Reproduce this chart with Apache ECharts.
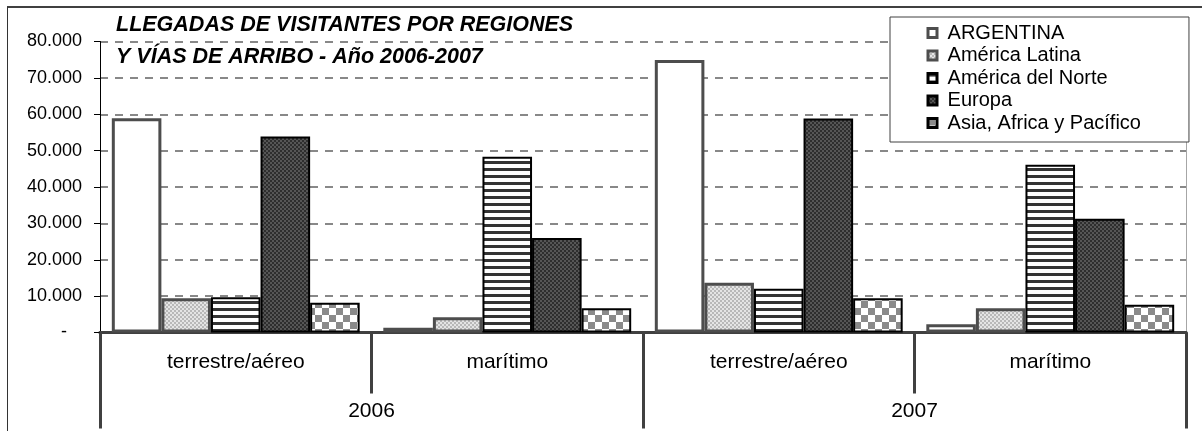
<!DOCTYPE html>
<html>
<head>
<meta charset="utf-8">
<title>Llegadas de visitantes</title>
<script src="https://cdn.jsdelivr.net/npm/echarts@6/dist/echarts.min.js"></script>
<style>
  html, body { margin: 0; padding: 0; background: #fff; }
  #chart { width: 1202px; height: 431px; }
</style>
</head>
<body>
<div id="chart"></div>
<script>
// datos (orden: 2006 terrestre/aéreo, 2006 marítimo, 2007 terrestre/aéreo, 2007 marítimo)
var vias = ['terrestre/aéreo', 'marítimo', 'terrestre/aéreo', 'marítimo'];
var anios = ['2006', '2007'];
var regiones = ['ARGENTINA', 'América Latina', 'América del Norte', 'Europa', 'Asia, Africa y Pacífico'];

var argentina = [58900, 1300, 74900, 2300];
var americaLatina = [9400, 4200, 13700, 6700];
var americaNorte = [9700, 48300, 12000, 46100];
var europa = [53900, 26000, 58800, 31300];
var asiaAfrica = [8200, 6700, 9400, 7600];

var yTicks = [0, 80000, 10000]; // min, max, intervalo

var FONT = 'Liberation Sans, Arial, sans-serif';

// tramas tipo excel
function trama(w, h, draw) {
    var c = document.createElement('canvas');
    c.width = w;
    c.height = h;
    draw(c.getContext('2d'));
    return { image: c, repeat: 'repeat' };
}

var tramaLatina = trama(4, 4, function(ctx) {
    ctx.fillStyle = '#e4e4e4';
    ctx.fillRect(0, 0, 4, 4);
    ctx.fillStyle = '#b8b8b8';
    ctx.fillRect(0, 0, 2, 2);
    ctx.fillRect(2, 2, 2, 2);
});

var tramaNorte = trama(4, 7, function(ctx) {
    ctx.fillStyle = '#ffffff';
    ctx.fillRect(0, 0, 4, 7);
    ctx.fillStyle = '#333333';
    ctx.fillRect(0, 0, 4, 3);
});

var tramaEuropa = trama(4, 4, function(ctx) {
    ctx.fillStyle = '#2e2e2e';
    ctx.fillRect(0, 0, 4, 4);
    ctx.fillStyle = '#565656';
    ctx.fillRect(0, 0, 2, 2);
    ctx.fillRect(2, 2, 2, 2);
});

var tramaAsia = trama(14, 14, function(ctx) {
    ctx.fillStyle = '#ffffff';
    ctx.fillRect(0, 0, 14, 14);
    ctx.fillStyle = '#8a8a8a';
    ctx.fillRect(0, 0, 7, 7);
    ctx.fillRect(7, 7, 7, 7);
});

var estilos = [
    { color: '#ffffff', borderColor: '#4d4d4d', borderWidth: 3 },
    { color: tramaLatina, borderColor: '#4d4d4d', borderWidth: 3 },
    { color: tramaNorte, borderColor: '#000000', borderWidth: 2 },
    { color: tramaEuropa, borderColor: '#000000', borderWidth: 2 },
    { color: tramaAsia, borderColor: '#000000', borderWidth: 2 }
];
var valores = [argentina, americaLatina, americaNorte, europa, asiaAfrica];

var series = regiones.map(function(nombre, i) {
    return {
        name: nombre,
        type: 'bar',
        xAxisIndex: 0,
        yAxisIndex: 0,
        barGap: '0%',
        barCategoryGap: '8.7%',
        itemStyle: estilos[i],
        emphasis: { disabled: true },
        data: valores[i]
    };
});

function miles(v) {
    if (v === 0) return '-   ';
    return String(v).replace(/\B(?=(\d{3})+(?!\d))/g, '.');
}

var chart = echarts.init(document.getElementById('chart'), null, { renderer: 'canvas' });

chart.setOption({
    animation: false,
    backgroundColor: '#ffffff',
    title: {
        text: 'LLEGADAS DE VISITANTES POR REGIONES\nY VÍAS DE ARRIBO - Año 2006-2007',
        left: 116,
        top: 9,
        padding: 0,
        textStyle: {
            fontFamily: FONT,
            fontSize: 21.5,
            fontWeight: 'bold',
            fontStyle: 'italic',
            color: '#000',
            lineHeight: 32
        }
    },
    legend: {
        orient: 'vertical',
        left: 890,
        top: 17,
        padding: [6, 48, 9, 36.5],
        itemGap: 2.5,
        itemWidth: 9,
        itemHeight: 9,
        icon: 'rect',
        backgroundColor: '#ffffff',
        borderColor: '#404040',
        borderWidth: 1,
        borderRadius: 0,
        selectedMode: false,
        itemStyle: { borderWidth: 3 },
        formatter: ' {name}',
        textStyle: { fontFamily: FONT, fontSize: 20, color: '#000' },
        data: regiones
    },
    grid: { left: 100, right: 16, top: 41.5, bottom: 98.5, containLabel: false },
    xAxis: [
        {
            type: 'category',
            position: 'bottom',
            data: vias,
            axisLine: { show: true, lineStyle: { color: '#404040', width: 3 } },
            axisTick: { show: true, length: 61, lineStyle: { color: '#404040', width: 3 } },
            axisLabel: { interval: 0, margin: 19, fontFamily: FONT, fontSize: 21, color: '#000' },
            splitLine: { show: false }
        },
        {
            type: 'category',
            position: 'bottom',
            offset: 0,
            data: anios,
            axisLine: { show: true, lineStyle: { color: '#404040', width: 3 } },
            axisTick: { show: true, length: 96, lineStyle: { color: '#404040', width: 3 } },
            axisLabel: { interval: 0, margin: 68, fontFamily: FONT, fontSize: 21, color: '#000' },
            splitLine: { show: false }
        }
    ],
    yAxis: [
        {
            type: 'value',
            min: yTicks[0],
            max: yTicks[1],
            interval: yTicks[2],
            axisLine: { show: true, lineStyle: { color: '#000', width: 1 } },
            axisTick: { show: true, length: 6, lineStyle: { color: '#000', width: 1 } },
            axisLabel: { margin: 18, fontFamily: FONT, fontSize: 18, color: '#000', formatter: miles },
            splitLine: { show: true, lineStyle: { color: '#888', width: 2, type: [8, 7] } }
        },
        {
            type: 'value',
            position: 'right',
            min: yTicks[0],
            max: yTicks[1],
            interval: yTicks[2],
            axisLine: { show: true, lineStyle: { color: '#a6a6a6', width: 1 } },
            axisTick: { show: false },
            axisLabel: { show: false },
            splitLine: { show: false }
        }
    ],
    graphic: [
        { type: 'line', shape: { x1: 7, y1: 7, x2: 1202, y2: 7 }, style: { stroke: '#404040', lineWidth: 2 }, silent: true },
        { type: 'line', shape: { x1: 7.5, y1: 7, x2: 7.5, y2: 431 }, style: { stroke: '#333', lineWidth: 1 }, silent: true }
    ],
    series: series
});
</script>
</body>
</html>
